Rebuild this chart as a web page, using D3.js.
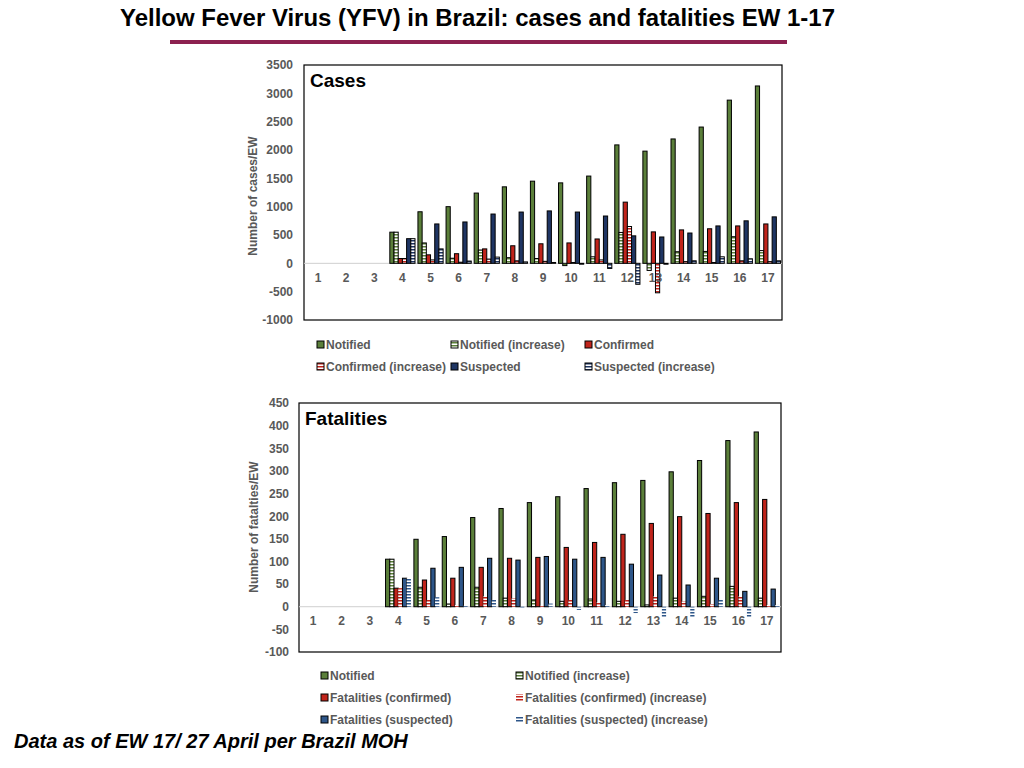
<!DOCTYPE html>
<html>
<head>
<meta charset="utf-8">
<script src="https://cdn.jsdelivr.net/npm/d3@7"></script>
<style>
body {margin: 0; background: #fff;}
svg {display: block;}
text {font-family: "Liberation Sans", Arial, Helvetica, sans-serif;}
</style>
</head>
<body>
<svg width="1024" height="768"></svg>
<script>
const weeks = d3.range(1, 18).map(String);

// Cases per epidemiological week (EW 1-3 have no data)
const notified    = [null, null, null, 550, 910, 1000, 1240, 1350, 1450, 1420, 1540, 2090, 1980, 2195, 2405, 2880, 3130];
const notifiedInc = [null, null, null, 550, 360, 90, 235, 100, 85, -40, 115, 545, -125, 205, 210, 470, 225];
const confirmed   = [null, null, null, 85, 150, 170, 255, 310, 345, 360, 430, 1080, 555, 590, 610, 660, 695];
const confirmedInc= [null, null, null, 85, 60, 20, 75, 45, 35, 15, 60, 650, -520, 30, 15, 45, 30];
const suspected   = [null, null, null, 435, 695, 730, 870, 905, 925, 905, 835, 485, 465, 535, 660, 750, 820];
const suspectedInc= [null, null, null, 435, 255, 40, 110, 25, 15, -15, -90, -370, -15, 45, 115, 80, 45];
const casesTicks  = [-1000, -500, 0, 500, 1000, 1500, 2000, 2500, 3000, 3500];

// Fatalities per epidemiological week
const fNotified     = [null, null, null, 105, 149, 155, 197, 217, 230, 243, 261, 274, 279, 298, 323, 367, 386];
const fNotifiedInc  = [null, null, null, 105, 43, 6, 43, 19, 15, 12, 17, 12, 4, 19, 23, 45, 19];
const fConfirmed    = [null, null, null, 41, 59, 63, 87, 107, 109, 131, 142, 160, 184, 199, 206, 230, 237];
const fConfirmedInc = [null, null, null, 41, 15, 4, 23, 19, 2, 15, 10, 15, 23, 12, 6, 23, 4];
const fSuspected    = [null, null, null, 63, 85, 87, 107, 103, 111, 105, 109, 94, 70, 48, 63, 34, 39];
const fSuspectedInc = [null, null, null, 63, 21, 2, 15, -3, 7, -7, 4, -14, -23, -23, 15, -23, 4];
const fatalTicks    = [-100, -50, 0, 50, 100, 150, 200, 250, 300, 350, 400, 450];

const green = '#5b7f3a', red = '#c0241b', navy = '#1f3563', blue = '#2e5689';
const gray = '#595959';

const svg = d3.select('svg');
const defs = svg.append('defs');

function stripes(id, color) {
    const p = defs.append('pattern')
        .attr('id', id)
        .attr('patternUnits', 'userSpaceOnUse')
        .attr('width', 6)
        .attr('height', 3);
    p.append('rect').attr('width', 6).attr('height', 3).attr('fill', '#fff');
    p.append('rect').attr('width', 6).attr('height', 1.5).attr('fill', color);
    return `url(#${id})`;
}

const hGreen = stripes('h-green', green);
const hRed = stripes('h-red', red);
const hNavy = stripes('h-navy', navy);
const hBlue = stripes('h-blue', blue);

// title
svg.append('text')
    .attr('x', 120).attr('y', 26)
    .attr('textLength', 715).attr('lengthAdjust', 'spacingAndGlyphs')
    .attr('font-size', 23).attr('font-weight', 'bold')
    .text('Yellow Fever Virus (YFV) in Brazil: cases and fatalities EW 1-17');

svg.append('rect')
    .attr('x', 170).attr('y', 40).attr('width', 617).attr('height', 4)
    .attr('fill', '#8c2150');

function drawPanel(o) {
    const g = svg.append('g');

    const x = d3.scaleBand().domain(weeks).range([o.left, o.right]);
    const y = d3.scaleLinear().domain(d3.extent(o.ticks)).range([o.bottom, o.top]);
    const x1 = d3.scaleBand()
        .domain(o.series.map(s => s.name))
        .range([0, x.bandwidth()])
        .paddingOuter(0.35);

    g.append('rect')
        .attr('x', o.left).attr('y', o.top)
        .attr('width', o.right - o.left).attr('height', o.bottom - o.top)
        .attr('fill', '#fff').attr('stroke', '#000').attr('stroke-width', 1.2);

    g.append('line')
        .attr('x1', o.left).attr('x2', o.right)
        .attr('y1', y(0)).attr('y2', y(0))
        .attr('stroke', '#cfcfcf').attr('stroke-width', 1);

    o.series.forEach(s => {
        const rows = weeks.map((w, i) => ({w: w, v: s.values[i]})).filter(d => d.v !== null);
        g.append('g').selectAll('rect').data(rows).enter().append('rect')
            .attr('x', d => x(d.w) + x1(s.name))
            .attr('y', d => y(Math.max(0, d.v)))
            .attr('width', x1.bandwidth())
            .attr('height', d => Math.abs(y(d.v) - y(0)))
            .attr('fill', s.fill)
            .attr('stroke', s.stroke)
            .attr('stroke-width', 1);
    });

    const yAxis = g.append('g')
        .attr('transform', `translate(${o.left}, 0)`)
        .call(d3.axisLeft(y).tickValues(o.ticks).tickFormat(d => String(d))
            .tickSize(0).tickPadding(o.tickPad));
    yAxis.select('.domain').remove();
    yAxis.selectAll('text')
        .attr('font-size', 12).attr('font-weight', 'bold').attr('fill', gray)
        .style('font-family', '"Liberation Sans", Arial, sans-serif');

    const xAxis = g.append('g')
        .attr('transform', `translate(0, ${y(0)})`)
        .call(d3.axisBottom(x).tickSize(0).tickPadding(10));
    xAxis.select('.domain').remove();
    xAxis.selectAll('text')
        .attr('font-size', 12).attr('font-weight', 'bold').attr('fill', gray)
        .style('font-family', '"Liberation Sans", Arial, sans-serif');

    g.append('text')
        .attr('transform', `translate(${o.yTitleX}, ${o.yTitleY}) rotate(-90)`)
        .attr('text-anchor', 'middle')
        .attr('font-size', 12).attr('font-weight', 'bold').attr('fill', gray)
        .text(o.yTitle);

    g.append('text')
        .attr('x', o.left + 6).attr('y', o.top + 22)
        .attr('font-size', 19).attr('font-weight', 'bold')
        .text(o.title);

    o.series.forEach((s, i) => {
        const lx = o.legendX[i % o.legendX.length];
        const ly = o.legendY[Math.floor(i / o.legendX.length)];
        g.append('rect')
            .attr('x', lx).attr('y', ly - 4).attr('width', 7).attr('height', 7)
            .attr('fill', s.fill).attr('stroke', s.legendStroke).attr('stroke-width', 1);
        g.append('text')
            .attr('x', lx + 9).attr('y', ly + 4)
            .attr('font-size', 12).attr('font-weight', 'bold').attr('fill', gray)
            .text(s.name);
    });
}

drawPanel({
    title: 'Cases',
    yTitle: 'Number of cases/EW',
    left: 304, right: 782, top: 65, bottom: 320,
    ticks: casesTicks, tickPad: 11, yTitleX: 257, yTitleY: 196,
    legendX: [317, 451, 585], legendY: [345, 367],
    series: [
        {name: 'Notified', values: notified, fill: green, stroke: '#000', legendStroke: '#000'},
        {name: 'Notified (increase)', values: notifiedInc, fill: hGreen, stroke: '#000', legendStroke: '#000'},
        {name: 'Confirmed', values: confirmed, fill: red, stroke: '#000', legendStroke: '#000'},
        {name: 'Confirmed (increase)', values: confirmedInc, fill: hRed, stroke: '#000', legendStroke: '#000'},
        {name: 'Suspected', values: suspected, fill: navy, stroke: '#000', legendStroke: '#000'},
        {name: 'Suspected (increase)', values: suspectedInc, fill: hNavy, stroke: '#000', legendStroke: '#000'}
    ]
});

drawPanel({
    title: 'Fatalities',
    yTitle: 'Number of fatalties/EW',
    left: 299, right: 781, top: 403, bottom: 652,
    ticks: fatalTicks, tickPad: 10, yTitleX: 258, yTitleY: 527,
    legendX: [321, 516], legendY: [676, 698, 720],
    series: [
        {name: 'Notified', values: fNotified, fill: green, stroke: '#000', legendStroke: '#000'},
        {name: 'Notified (increase)', values: fNotifiedInc, fill: hGreen, stroke: '#000', legendStroke: '#000'},
        {name: 'Fatalities (confirmed)', values: fConfirmed, fill: red, stroke: '#000', legendStroke: '#000'},
        {name: 'Fatalities (confirmed) (increase)', values: fConfirmedInc, fill: hRed, stroke: 'none', legendStroke: 'none'},
        {name: 'Fatalities (suspected)', values: fSuspected, fill: blue, stroke: '#000', legendStroke: '#000'},
        {name: 'Fatalities (suspected) (increase)', values: fSuspectedInc, fill: hBlue, stroke: 'none', legendStroke: 'none'}
    ]
});

svg.append('text')
    .attr('x', 14).attr('y', 748)
    .attr('font-size', 20).attr('font-weight', 'bold').attr('font-style', 'italic')
    .text('Data as of EW 17/ 27 April per Brazil MOH');
</script>
</body>
</html>
